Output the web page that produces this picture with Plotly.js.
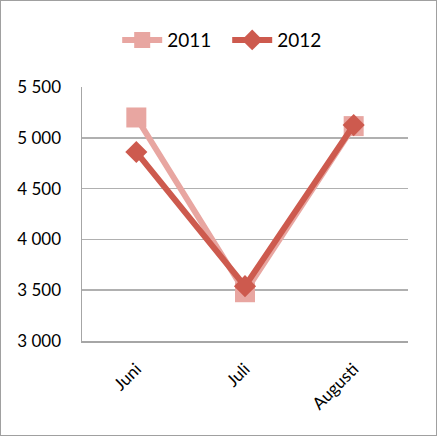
<!DOCTYPE html>
<html><head><meta charset="utf-8">
<script src="https://cdn.plot.ly/plotly-3.0.1.min.js"></script>
<style>html,body{margin:0;padding:0;background:#fff}#c{width:435px;height:434px;border:1px solid #a0a0a0}</style>
</head><body><div id="c"></div>
<script>
const categories = ['Juni', 'Juli', 'Augusti'];
const series2011 = [5200, 3480, 5115];
const series2012 = [4860, 3540, 5125];
const yTicks = [3000, 3500, 4000, 4500, 5000, 5500];

const traces = [
  {x: categories, y: series2011, name: '2011', type: 'scatter', mode: 'lines+markers',
   line: {color: '#E8A6A1', width: 6}, marker: {symbol: 'square', size: 20, color: '#E8A6A1'}},
  {x: categories, y: series2012, name: '2012', type: 'scatter', mode: 'lines+markers',
   line: {color: '#CD5A4E', width: 6}, marker: {symbol: 'diamond', size: 17, color: '#CD5A4E'}}
];
const layout = {
  width: 435, height: 434,
  margin: {l: 81, r: 28, t: 86, b: 94},
  paper_bgcolor: '#fff', plot_bgcolor: '#fff',
  separators: ', ',
  font: {family: 'Lato, "Open Sans", sans-serif', color: '#000', size: 17},
  showlegend: true,
  legend: {orientation: 'h', xref: 'container', x: 0.52, xanchor: 'center', yref: 'container', y: 0.91, yanchor: 'middle',
           font: {size: 19}, traceorder: 'normal', itemwidth: 40, entrywidth: 55},
  xaxis: {type: 'category', range: [-0.5, 2.5], showgrid: false, showline: true, linecolor: '#a6a6a6',
          linewidth: 1.5, ticks: '', tickangle: -45, tickfont: {size: 17}, ticklabelstandoff: 10, fixedrange: true},
  yaxis: {range: [3000, 5500], tickvals: yTicks, tickformat: ',', showgrid: true, gridcolor: '#b0b0b0',
          gridwidth: 1.5, showline: true, linecolor: '#a6a6a6', linewidth: 1.5, ticks: '', ticklen: 0,
          zeroline: false, tickfont: {size: 17}, ticklabelstandoff: 16, fixedrange: true, automargin: false}
};
Plotly.newPlot('c', traces, layout, {displayModeBar: false, staticPlot: true});
</script></body></html>
